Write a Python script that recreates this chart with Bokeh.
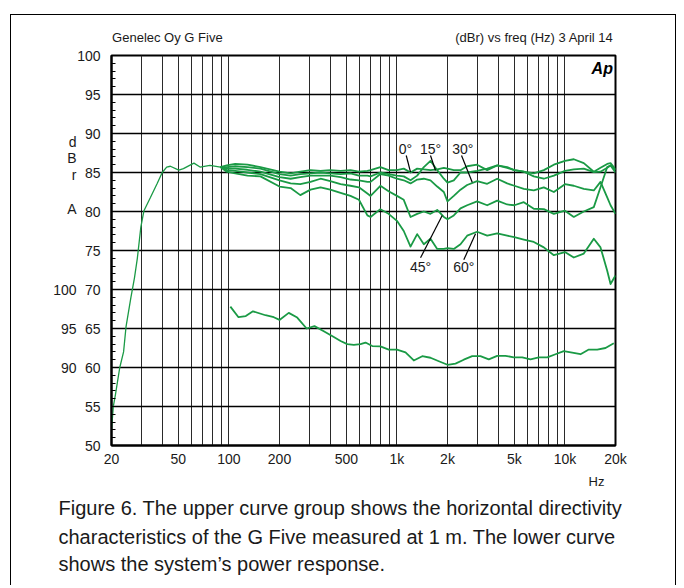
from bokeh.plotting import figure
from bokeh.models import (Range1d, LinearAxis, LogAxis, FixedTicker, SingleIntervalTicker,
                          Label, Title)
from bokeh.embed import file_html
from bokeh.resources import INLINE

# ---------------- data ----------------
# common low-frequency part (all angles coincide)
low_freq = [20, 20.5, 21.1, 22.4, 23.6, 24.4, 26.1, 27.4, 28.5, 29.9, 31.2, 34.1,
            37.4, 40.1, 42.6, 44.8, 50.3, 53.6, 61.9, 67.3, 77.1, 89]
low_db = [52, 55, 56.5, 60, 62, 65.2, 69, 71.5, 74, 78, 80.1, 81.8,
          83.6, 85.0, 85.7, 85.8, 85.3, 85.5, 86.2, 85.7, 85.9, 85.7]

# directivity curves (dBr)
dir_freq = [89, 97, 109, 129, 154, 200, 233, 266, 306, 351, 401, 462, 529, 594, 667,
            697, 797, 892, 1000, 1098, 1205, 1320, 1446, 1584, 1737, 1902, 2000,
            2180, 2390, 2618, 3000, 3446, 3952, 4532, 5000, 5692, 6528, 7488, 8590,
            10000, 11292, 12952, 14856, 16286, 17852, 18687, 20000]
deg0 = [85.7, 85.9, 86.1, 86.0, 85.7, 85.1, 84.9, 85.1, 85.3, 85.2, 85.3, 85.2, 85.3,
        85.1, 85.2, 85.3, 85.7, 85.3, 85.3, 85.5, 85.0, 85.5, 85.4, 85.3, 85.4, 85.6,
        85.5, 85.3, 85.3, 85.8, 86.0, 85.3, 85.9, 85.7, 85.3, 85.1, 84.9, 85.3, 86.0,
        86.5, 86.7, 86.2, 85.1, 85.6, 86.1, 86.2, 85.4]
deg15 = [85.7, 85.7, 85.8, 85.7, 85.5, 84.8, 84.6, 84.8, 84.9, 85.0, 84.9, 84.8, 84.9,
         84.6, 84.6, 84.5, 85.0, 84.8, 84.6, 84.5, 84.0, 84.6, 85.7, 86.5, 85.3, 84.2,
         83.7, 84.0, 85.0, 85.0, 85.2, 85.5, 85.9, 85.6, 85.3, 85.1, 84.5, 84.2, 84.6,
         85.2, 85.4, 85.5, 85.05, 85.1, 85.6, 85.9, 85.0]
deg30 = [85.7, 85.5, 85.5, 85.35, 85.1, 84.4, 84.2, 84.4, 84.6, 84.6, 84.6, 84.4, 84.1,
         84.0, 83.8, 83.8, 84.8, 84.6, 84.2, 84.0, 83.6, 84.1, 84.2, 84.0, 83.2, 82.5,
         81.3, 82.0, 82.8, 83.4, 83.9, 83.55, 84.2, 83.6, 83.3, 82.9, 82.7, 83.1, 82.5,
         83.5, 83.3, 82.9, 82.7, 83.8, 81.8, 80.8, 79.7]
deg45 = [85.7, 85.3, 85.2, 85.0, 84.8, 84.0, 83.6, 83.5, 83.8, 84.2, 83.9, 83.5, 83.3,
         83.1, 82.3, 82.0, 83.3, 82.6, 82.0, 81.5, 79.3, 79.7, 80.0, 79.7, 80.2, 79.3,
         79.0, 79.5, 80.4, 80.8, 81.3, 80.8, 81.4, 80.9, 80.8, 81.2, 80.35, 80.3, 79.7,
         80.1, 79.3, 80.0, 80.56, 83.1, 85.7, 85.9, 85.3]
deg60 = [85.7, 85.1, 84.9, 84.6, 84.5, 83.2, 83.0, 82.1, 82.8, 83.1, 82.8, 82.4, 82.0,
         81.5, 79.5, 79.3, 80.3, 79.7, 78.8, 77.5, 75.5, 77.1, 75.8, 76.5, 75.2, 75.2,
         75.3, 75.2, 75.8, 76.9, 77.4, 76.9, 77.2, 76.9, 76.7, 76.4, 76.1, 75.4, 74.4,
         74.8, 74.1, 74.6, 76.5, 75.4, 72.4, 70.7, 71.8]

# power response (own scale: 90/95/100)
power_freq = [102, 114, 126, 139, 165, 185, 200, 227, 255, 290, 323, 367, 421, 462, 506,
              554, 607, 650, 713, 797, 894, 1000, 1125, 1260, 1415, 1584, 1776, 2000,
              2232, 2500, 2806, 3141, 3522, 3952, 4427, 4961, 5568, 6238, 6993, 7846,
              8790, 9846, 11048, 12384, 13872, 15570, 17440, 19540]
power_db = [97.8, 96.45, 96.6, 97.2, 96.7, 96.45, 96.1, 97.0, 96.4, 95.0, 95.3, 94.65,
            93.9, 93.4, 93.0, 92.9, 93.0, 93.2, 92.75, 92.7, 92.3, 92.3, 91.95, 90.9,
            91.45, 91.25, 90.8, 90.35, 90.5, 91.0, 91.45, 91.45, 91.05, 91.5, 91.5, 91.3,
            91.3, 91.05, 91.3, 91.3, 91.7, 92.1, 91.9, 91.7, 92.3, 92.3, 92.5, 93.1]

x_tick_values = [20, 50, 100, 200, 500, 1000, 2000, 5000, 10000, 20000]
x_tick_labels = ["20", "50", "100", "200", "500", "1k", "2k", "5k", "10k", "20k"]
x_grid_values = [20, 30, 40, 50, 60, 70, 80, 90, 100, 200, 300, 400, 500, 600, 700,
                 800, 900, 1000, 2000, 3000, 4000, 5000, 6000, 7000, 8000, 9000, 10000, 20000]
y_grid_values = [55, 60, 65, 70, 75, 80, 85, 90, 95]
power_ticks = [90, 95, 100]
# letters of the stacked unit caption "dBr A", placed on the power scale
unit_letters = ["d", "B", "r", "A"]
unit_letter_pos = [118.85, 116.8, 114.74, 110.38]

angle_labels = ["0°", "15°", "30°", "45°", "60°"]
angle_label_pos = [(1125, 88.04), (1584, 88.04), (2466, 88.04), (1382, 72.86), (2500, 72.86)]
angle_pointer = [((1136, 87.18), (1205, 85.04)), ((1584, 87.18), (1697, 85.26)),
                 ((2424, 87.18), (2806, 83.76)), ((1382, 74.06), (1860, 79.49)),
                 ((2500, 73.8), (2936, 77.14))]

title_left = "Genelec Oy G Five"
title_right = "(dBr) vs freq (Hz) 3 April 14"
title_pos = [43, 6580]          # centres of the two header texts (on the frequency scale)
hz_pos = 15420
caption = ["Figure 6. The upper curve group shows the horizontal directivity",
           "characteristics of the G Five measured at 1 m. The lower curve",
           "shows the system\u2019s power response."]

# ---------------- figure ----------------
GREEN = "#1a9a45"
FONT = "Liberation Sans"
TXT = "#1a1a1a"

p = figure(x_axis_type="log", x_range=Range1d(20, 20000), y_range=Range1d(50, 100),
           frame_width=504, frame_height=390,
           min_border_left=100, min_border_right=60, min_border_top=40, min_border_bottom=140,
           output_backend="svg", toolbar_location=None,
           background_fill_color="white", border_fill_color="white")
p.styles = {"margin-left": "10px", "margin-top": "14px",
            "border-left": "1px solid black", "border-top": "1px solid black",
            "border-right": "1px solid black"}
p.outline_line_color = "black"
p.outline_line_width = 2

# grids
p.xgrid.ticker = FixedTicker(ticks=x_grid_values)
p.xgrid.grid_line_color = "#2a2a2a"
p.xgrid.grid_line_width = 1
p.ygrid.ticker = FixedTicker(ticks=y_grid_values)
p.ygrid.grid_line_color = "black"
p.ygrid.grid_line_width = 1.4

# x axis
xa = p.xaxis[0]
xa.ticker = FixedTicker(ticks=x_tick_values)
xa.major_label_overrides = {v: l for v, l in zip(x_tick_values, x_tick_labels)}
xa.major_tick_in = 0
xa.major_tick_out = 0
xa.minor_tick_in = 0
xa.minor_tick_out = 0
xa.axis_line_width = 2
xa.major_label_standoff = 5
xa.major_label_text_font = FONT
xa.major_label_text_font_size = "14px"
xa.major_label_text_color = TXT

# "Hz" unit under the frequency axis
hz_axis = LogAxis(ticker=FixedTicker(ticks=[hz_pos]), major_label_overrides={hz_pos: "Hz"},
                  axis_line_color=None, major_tick_in=0, major_tick_out=0,
                  minor_tick_in=0, minor_tick_out=0, major_label_standoff=4,
                  major_label_text_font=FONT, major_label_text_font_size="13px",
                  major_label_text_color=TXT)
p.add_layout(hz_axis, "below")

# header line
head_axis = LogAxis(ticker=FixedTicker(ticks=title_pos),
                    major_label_overrides={title_pos[0]: title_left, title_pos[1]: title_right},
                    axis_line_color=None, major_tick_in=0, major_tick_out=0,
                    minor_tick_in=0, minor_tick_out=0, major_label_standoff=11,
                    major_label_text_font=FONT, major_label_text_font_size="13px",
                    major_label_text_color=TXT)
p.add_layout(head_axis, "above")

# y axis (dBr)
ya = p.yaxis[0]
ya.ticker = SingleIntervalTicker(interval=5, num_minor_ticks=5)
ya.major_tick_in = 0
ya.major_tick_out = 0
ya.minor_tick_in = 4
ya.minor_tick_out = 0
ya.minor_tick_line_color = "black"
ya.axis_line_width = 2
ya.major_label_standoff = 11
ya.major_label_text_font = FONT
ya.major_label_text_font_size = "14px"
ya.major_label_text_color = TXT

# secondary scale for power response (+ stacked unit letters)
p.extra_y_ranges = {"power": Range1d(80, 130)}
ya2 = LinearAxis(y_range_name="power",
                 ticker=FixedTicker(ticks=power_ticks + unit_letter_pos),
                 major_label_overrides={v: l for v, l in zip(unit_letter_pos, unit_letters)},
                 axis_line_color=None, major_tick_line_color=None,
                 minor_tick_line_color=None, major_tick_in=0, major_tick_out=0,
                 minor_tick_in=0, minor_tick_out=0, major_label_standoff=-2,
                 major_label_text_font=FONT, major_label_text_font_size="14px",
                 major_label_text_color=TXT)
p.add_layout(ya2, "left")

# curves
p.line(low_freq, low_db, line_color=GREEN, line_width=1.3)
for series in [deg60, deg45, deg30, deg15, deg0]:
    p.line(dir_freq, series, line_color=GREEN, line_width=1.8, line_join="round")
p.line(power_freq, power_db, y_range_name="power", line_color=GREEN, line_width=1.8,
       line_join="round")

# angle labels and pointers
p.segment(x0=[a[0][0] for a in angle_pointer], y0=[a[0][1] for a in angle_pointer],
          x1=[a[1][0] for a in angle_pointer], y1=[a[1][1] for a in angle_pointer],
          line_color="black", line_width=1.2)
for txt, (fx, fy) in zip(angle_labels, angle_label_pos):
    p.add_layout(Label(x=fx, y=fy, text=txt, text_align="center", text_baseline="middle",
                       text_font=FONT, text_font_size="14px", text_color=TXT))

# Ap logo
p.add_layout(Label(x=19300, y=98.3, text="Ap", text_align="right", text_baseline="middle",
                   text_font=FONT, text_font_size="16px", text_font_style="bold italic",
                   text_color="black"))

# caption (three lines below the chart)
for i, line in enumerate(caption):
    p.add_layout(Title(text=line, align="left", offset=-53, standoff=7 if i == 0 else 3,
                       text_font=FONT, text_font_size="20px", text_font_style="normal",
                       text_color=TXT), "below")

open("out.html", "w").write(file_html(p, INLINE))
